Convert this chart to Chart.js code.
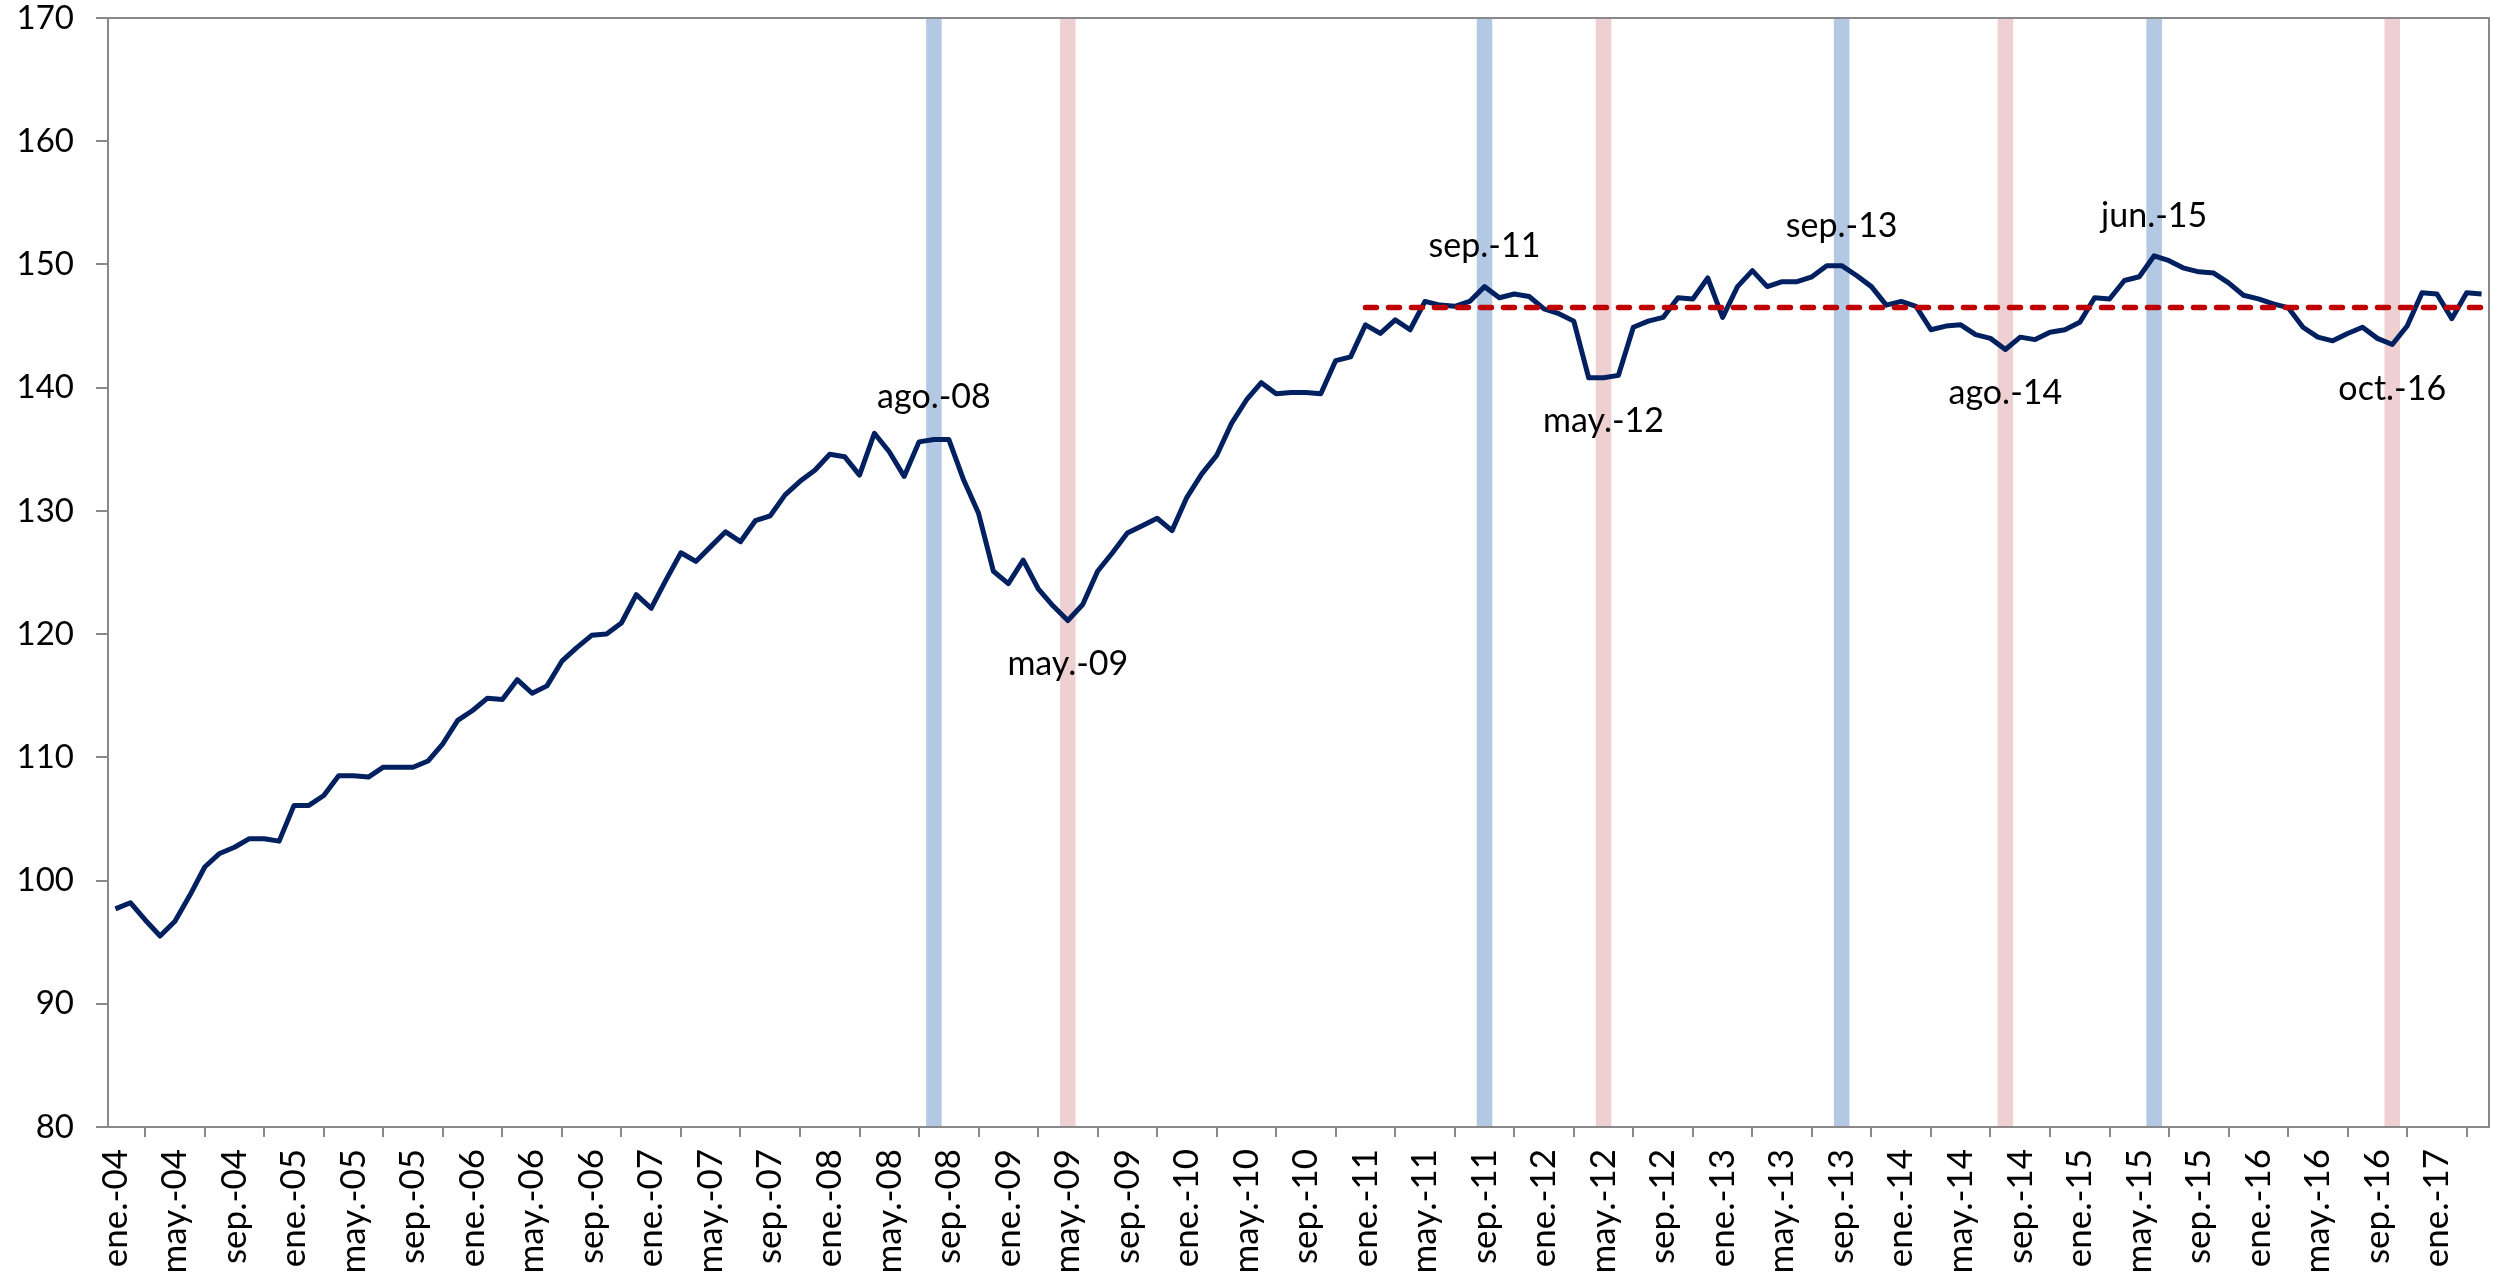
<!DOCTYPE html>
<html lang="es">
<head>
<meta charset="UTF-8">
<title>Índice mensual 2004-2017</title>
<script src="https://cdn.jsdelivr.net/npm/chart.js@4.4.1/dist/chart.umd.min.js"></script>
<style>
    body { margin: 0; background: #fff; }
    #wrap { width: 2506px; height: 1275px; }
</style>
</head>
<body>
<div id="wrap"><canvas id="chart" width="2506" height="1275"></canvas></div>
<script>
    // month names and years used for the category labels
    const monthNames = ['ene.', 'feb.', 'mar.', 'abr.', 'may.', 'jun.', 'jul.', 'ago.', 'sep.', 'oct.', 'nov.', 'dic.'];
    const years = ['04', '05', '06', '07', '08', '09', '10', '11', '12', '13', '14', '15', '16', '17'];

    // monthly values, ene.-04 .. abr.-17
    const values = [
        97.7, 98.2, 96.8, 95.5, 96.7, 98.8, 101.1, 102.2, 102.7, 103.4, 103.4, 103.2,
        106.1, 106.1, 106.9, 108.5, 108.5, 108.4, 109.2, 109.2, 109.2, 109.7, 111.1, 113.0,
        113.8, 114.8, 114.7, 116.3, 115.2, 115.8, 117.8, 118.9, 119.9, 120.0, 120.9, 123.2,
        122.1, 124.4, 126.6, 125.9, 127.1, 128.3, 127.5, 129.2, 129.6, 131.3, 132.4, 133.3,
        134.6, 134.4, 132.9, 136.3, 134.8, 132.8, 135.6, 135.8, 135.8, 132.5, 129.8, 125.1,
        124.1, 126.0, 123.7, 122.3, 121.1, 122.4, 125.1, 126.6, 128.2, 128.8, 129.4, 128.4,
        131.1, 133.0, 134.5, 137.1, 139.0, 140.4, 139.5, 139.6, 139.6, 139.5, 142.2, 142.5,
        145.1, 144.4, 145.5, 144.7, 147.0, 146.7, 146.6, 147.0, 148.2, 147.3, 147.6, 147.4,
        146.4, 146.0, 145.4, 140.8, 140.8, 141.0, 144.9, 145.4, 145.7, 147.3, 147.2, 148.9,
        145.7, 148.2, 149.5, 148.2, 148.6, 148.6, 149.0, 149.9, 149.9, 149.1, 148.2, 146.7,
        147.0, 146.6, 144.7, 145.0, 145.1, 144.3, 144.0, 143.1, 144.1, 143.9, 144.5, 144.7,
        145.3, 147.3, 147.2, 148.7, 149.0, 150.7, 150.3, 149.7, 149.4, 149.3, 148.5, 147.5,
        147.2, 146.8, 146.5, 144.9, 144.1, 143.8, 144.4, 144.9, 144.0, 143.5, 145.0, 147.7,
        147.6, 145.6, 147.7, 147.6
    ];

    // average level since ene.-11
    const avgStart = 'ene.-11';
    const avgValue = 146.5;

    // highlighted months (peaks in blue, troughs in pink) and where their labels sit
    const peakMonths = ['ago.-08', 'sep.-11', 'sep.-13', 'jun.-15'];
    const peakLabelY = [139.2, 151.5, 153.1, 153.9];
    const troughMonths = ['may.-09', 'may.-12', 'ago.-14', 'oct.-16'];
    const troughLabelY = [117.6, 137.3, 139.6, 139.9];

    const yMin = 80, yMax = 170, yStep = 10;

    const categories = [];
    years.forEach(y => monthNames.forEach(m => categories.push(m + '-' + y)));
    categories.length = values.length;

    const avgFrom = categories.indexOf(avgStart);
    const avgLine = categories.map((c, i) => i >= avgFrom ? avgValue : null);

    const bandData = categories.map(c =>
        (peakMonths.includes(c) || troughMonths.includes(c)) ? [yMin, yMax] : null);
    const bandColors = categories.map(c => peakMonths.includes(c) ? '#B3C9E3' : '#EED0D2');

    const notes = peakMonths.map((m, i) => ({ text: m, y: peakLabelY[i] }))
        .concat(troughMonths.map((m, i) => ({ text: m, y: troughLabelY[i] })));

    const frame = {
        id: 'frame',
        afterDraw(chart) {
            const a = chart.chartArea, ctx = chart.ctx;
            ctx.save();
            ctx.strokeStyle = '#898989';
            ctx.lineWidth = 2;
            ctx.strokeRect(a.left, a.top, a.right - a.left, a.bottom - a.top);
            ctx.restore();
        }
    };

    const noteLabels = {
        id: 'noteLabels',
        afterDatasetsDraw(chart) {
            const ctx = chart.ctx, xs = chart.scales.x, ys = chart.scales.y;
            ctx.save();
            ctx.font = '34px Lato';
            ctx.fillStyle = '#000';
            ctx.textAlign = 'center';
            ctx.textBaseline = 'middle';
            notes.forEach(n => {
                ctx.fillText(n.text, xs.getPixelForValue(categories.indexOf(n.text)), ys.getPixelForValue(n.y));
            });
            ctx.restore();
        }
    };

    new Chart(document.getElementById('chart'), {
        data: {
            labels: categories,
            datasets: [
                {
                    type: 'bar',
                    data: bandData,
                    backgroundColor: bandColors,
                    categoryPercentage: 1,
                    barPercentage: 1,
                    order: 3
                },
                {
                    type: 'line',
                    data: values,
                    borderColor: '#002060',
                    borderWidth: 5,
                    borderJoinStyle: 'round',
                    pointRadius: 0,
                    tension: 0,
                    order: 2
                },
                {
                    type: 'line',
                    data: avgLine,
                    borderColor: '#C00000',
                    borderWidth: 5.5,
                    borderDash: [11, 12],
                    borderCapStyle: 'round',
                    pointRadius: 0,
                    order: 1
                }
            ]
        },
        options: {
            responsive: false,
            animation: false,
            layout: { padding: { top: 0, right: 17, left: 0, bottom: 0 } },
            plugins: { legend: { display: false }, tooltip: { enabled: false } },
            scales: {
                x: {
                    offset: true,
                    afterFit(s) { s.height = 148; },
                    grid: { offset: true, drawOnChartArea: false, tickLength: 10, color: '#898989', lineWidth: 2 },
                    border: { color: '#898989', width: 2 },
                    ticks: {
                        autoSkip: false,
                        minRotation: 90,
                        maxRotation: 90,
                        padding: 12,
                        color: '#000',
                        font: { family: 'Lato', size: 35 },
                        callback(v, i) { return i % 4 === 0 ? categories[i] : null; }
                    }
                },
                y: {
                    min: yMin,
                    max: yMax,
                    afterFit(s) { s.width = 108; s.paddingTop = 18; },
                    grid: { drawOnChartArea: false, tickLength: 12, color: '#898989', lineWidth: 2 },
                    border: { color: '#898989', width: 2 },
                    ticks: {
                        stepSize: yStep,
                        padding: 22,
                        color: '#000',
                        font: { family: 'Lato', size: 33 }
                    }
                }
            }
        },
        plugins: [frame, noteLabels]
    });
</script>
</body>
</html>
